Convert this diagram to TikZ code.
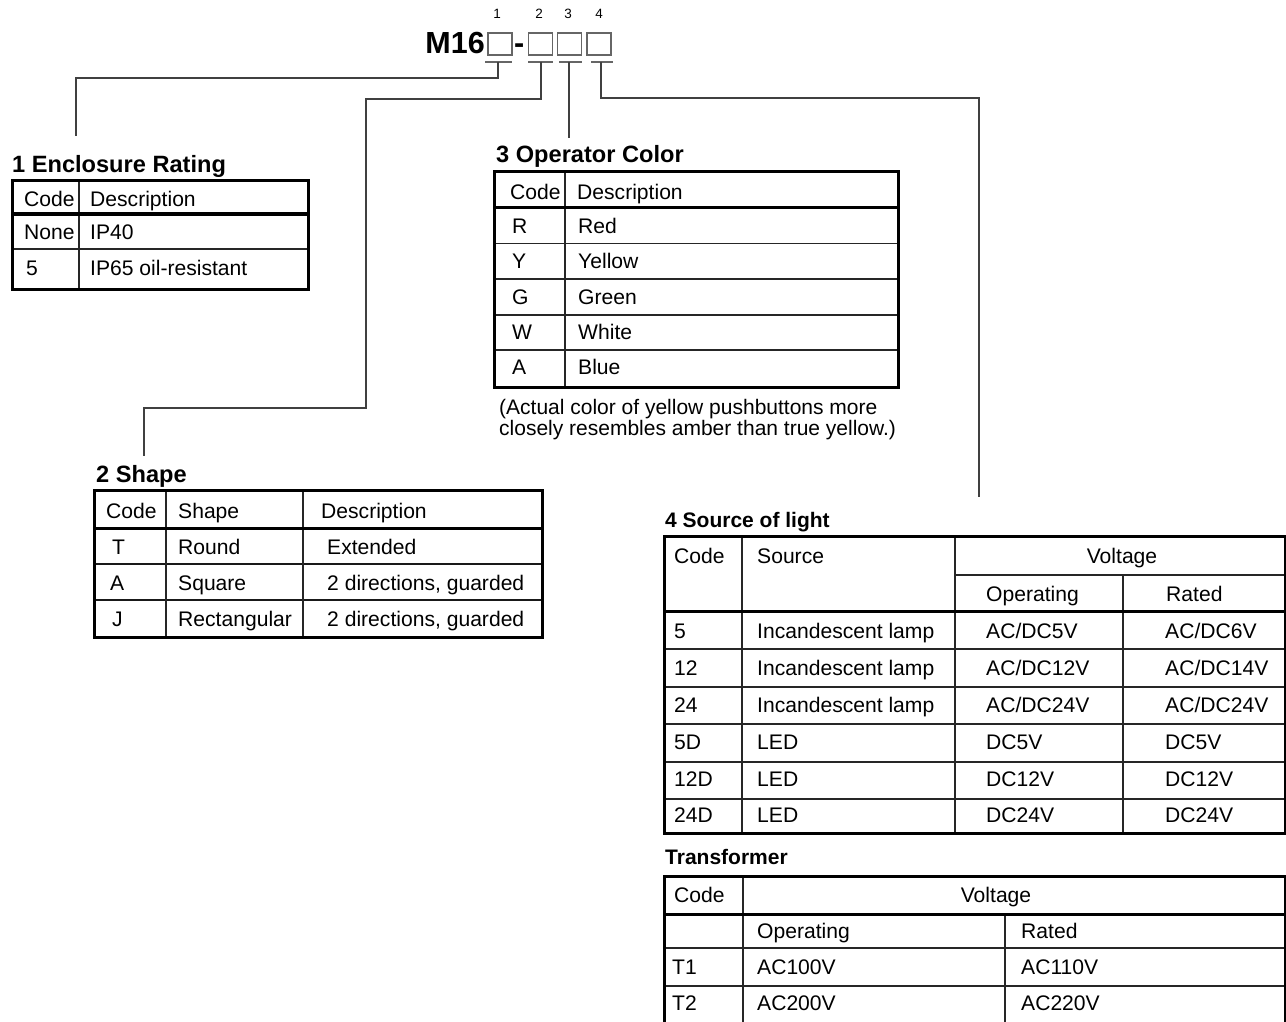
\documentclass[tikz,border=0pt]{standalone}
\usepackage{fontspec}
\setmainfont{Liberation Sans}
\begin{document}
\begin{tikzpicture}[x=1pt,y=-1pt,
  cell/.style={anchor=west,inner sep=0pt,text height=15pt,text depth=0pt,font=\fontsize{21.1}{21}\selectfont},
  ccell/.style={cell,anchor=center},
  ttl/.style={anchor=west,inner sep=0pt,text height=17pt,text depth=0pt,font=\bfseries\fontsize{23.6}{26}\selectfont},
  sttl/.style={ttl,text height=15pt,font=\bfseries\fontsize{21}{24}\selectfont},
  note/.style={anchor=north west,inner sep=0pt,align=left,font=\fontsize{21}{21}\selectfont},
  digit/.style={anchor=center,inner sep=0pt,font=\fontsize{13.5}{14}\selectfont},
  codebox/.style={draw=black!60,line width=1.3pt,minimum width=24pt,minimum height=22pt,inner sep=0pt},
  uline/.style={draw=black!60,line width=1.8pt},
  conn/.style={draw=black!75,line width=1.3pt},
  thickln/.style={line width=3pt,line cap=rect},
  thinln/.style={line width=1.2pt,draw=black!85},
  midln/.style={line width=1.8pt,draw=black!90}]
\useasboundingbox (0,0) rectangle (1286,1022);

% ---------------- header code ----------------
\node[anchor=base east,inner sep=0pt,font=\bfseries\fontsize{30.5}{32}\selectfont] (m16) at (485,54) {M16};
\node[anchor=base west,inner sep=0pt,font=\bfseries\fontsize{30.5}{32}\selectfont] (dash) at (514,54) {-};
\node[codebox] (b1) at (500,44) {};
\node[codebox] (b2) at (540.5,44) {};
\node[codebox] (b3) at (569.5,44) {};
\node[codebox] (b4) at (599,44) {};
\node[digit] (d1) at (497,14) {1};
\node[digit] (d2) at (539,14) {2};
\node[digit] (d3) at (568,14) {3};
\node[digit] (d4) at (599,14) {4};
\draw[uline] (485,62) -- (512,62);
\draw[uline] (528,62) -- (553,62);
\draw[uline] (559,62) -- (582,62);
\draw[uline] (591,62) -- (613,62);
\coordinate (u1) at (498,62);
\coordinate (u2) at (541,62);
\coordinate (u3) at (569,62);
\coordinate (u4) at (601,62);
\coordinate (e1) at (76,136);
\coordinate (e2) at (144,456);
\coordinate (e3) at (569,138);
\coordinate (e4) at (979,497);

% connectors
\draw[conn] (u1) |- (76,78) -- (e1);
\draw[conn] (u2) |- (366,99) |- (144,408) -- (e2);
\draw[conn] (u3) -- (e3);
\draw[conn] (u4) |- (979,98) -- (e4);

% ---------------- table 1 ----------------
\node[ttl] (t1) at (12,164) {1 Enclosure Rating};
\draw[thinln] (12,249) -- (308,249);
\draw[thinln] (79,181) -- (79,289);
\draw[thickln] (12,214) -- (308,214);
\draw[thickln] (12,181) rectangle (308,289);
\node[cell] (t1a) at (24,199) {Code};
\node[cell] (t1b) at (90,199) {Description};
\node[cell] (t1c) at (24,232) {None};
\node[cell] (t1d) at (90,232) {IP40};
\node[cell] (t1e) at (26,268) {5};
\node[cell] (t1f) at (90,268) {IP65 oil-resistant};

% ---------------- table 3 ----------------
\node[ttl] (t3) at (496,154) {3 Operator Color};
\foreach \yy in {243.5,279,315,350} \draw[thinln] (494,\yy) -- (898,\yy);
\draw[thinln] (565,172) -- (565,387);
\draw[thickln] (494,208) -- (898,208);
\draw[thickln] (494,172) rectangle (898,387);
\node[cell] (t3a) at (510,192) {Code};
\node[cell] (t3b) at (577,192) {Description};
\node[cell] (t3c) at (512,226) {R};
\node[cell] (t3d) at (578,226) {Red};
\node[cell] (t3e) at (512,261) {Y};
\node[cell] (t3f) at (578,261) {Yellow};
\node[cell] (t3g) at (512,297) {G};
\node[cell] (t3h) at (578,297) {Green};
\node[cell] (t3i) at (512,332) {W};
\node[cell] (t3j) at (578,332) {White};
\node[cell] (t3k) at (512,367) {A};
\node[cell] (t3l) at (578,367) {Blue};
\node[note] (t3n) at (499,399) {(Actual color of yellow pushbuttons more\\closely resembles amber than true yellow.)};

% ---------------- table 2 ----------------
\node[ttl] (t2) at (96,474) {2 Shape};
\draw[midln] (94,564) -- (542,564);
\draw[midln] (94,600) -- (542,600);
\draw[thinln] (166,490) -- (166,637);
\draw[thinln] (303,490) -- (303,637);
\draw[thickln] (94,528) -- (542,528);
\draw[thickln] (94,490) rectangle (542,637);
\node[cell] (t2a) at (106,511) {Code};
\node[cell] (t2b) at (178,511) {Shape};
\node[cell] (t2c) at (321,511) {Description};
\node[cell] (t2d) at (112,547) {T};
\node[cell] (t2e) at (178,547) {Round};
\node[cell] (t2f) at (327,547) {Extended};
\node[cell] (t2g) at (110,583) {A};
\node[cell] (t2h) at (178,583) {Square};
\node[cell] (t2i) at (327,583) {2 directions, guarded};
\node[cell] (t2j) at (112,619) {J};
\node[cell] (t2k) at (178,619) {Rectangular};
\node[cell] (t2l) at (327,619) {2 directions, guarded};

% ---------------- table 4 ----------------
\node[sttl] (t4) at (665,520) {4 Source of light};
\foreach \yy in {649,687,724,762,799} \draw[thinln] (664,\yy) -- (1285,\yy);
\draw[thinln] (955,575) -- (1285,575);
\draw[thinln] (742,536) -- (742,833);
\draw[thinln] (955,536) -- (955,833);
\draw[thinln] (1123,575) -- (1123,833);
\draw[thickln] (664,611) -- (1285,611);
\draw[thickln] (664,536) rectangle (1285,833);
\node[cell] (t4a) at (674,556) {Code};
\node[cell] (t4b) at (757,556) {Source};
\node[ccell] (t4c) at (1122,556) {Voltage};
\node[cell] (t4d) at (986,594) {Operating};
\node[cell] (t4e) at (1166,594) {Rated};
\node[cell] (r1a) at (674,631) {5};
\node[cell] (r1b) at (757,631) {Incandescent lamp};
\node[cell] (r1c) at (986,631) {AC/DC5V};
\node[cell] (r1d) at (1165,631) {AC/DC6V};
\node[cell] (r2a) at (674,668) {12};
\node[cell] (r2b) at (757,668) {Incandescent lamp};
\node[cell] (r2c) at (986,668) {AC/DC12V};
\node[cell] (r2d) at (1165,668) {AC/DC14V};
\node[cell] (r3a) at (674,705) {24};
\node[cell] (r3b) at (757,705) {Incandescent lamp};
\node[cell] (r3c) at (986,705) {AC/DC24V};
\node[cell] (r3d) at (1165,705) {AC/DC24V};
\node[cell] (r4a) at (674,742) {5D};
\node[cell] (r4b) at (757,742) {LED};
\node[cell] (r4c) at (986,742) {DC5V};
\node[cell] (r4d) at (1165,742) {DC5V};
\node[cell] (r5a) at (674,779) {12D};
\node[cell] (r5b) at (757,779) {LED};
\node[cell] (r5c) at (986,779) {DC12V};
\node[cell] (r5d) at (1165,779) {DC12V};
\node[cell] (r6a) at (674,815) {24D};
\node[cell] (r6b) at (757,815) {LED};
\node[cell] (r6c) at (986,815) {DC24V};
\node[cell] (r6d) at (1165,815) {DC24V};

% ---------------- transformer ----------------
\node[sttl] (t5) at (665,857) {Transformer};
\draw[thinln] (664,948) -- (1285,948);
\draw[thinln] (664,986) -- (1285,986);
\draw[thinln] (743,876) -- (743,1022);
\draw[thinln] (1005,914) -- (1005,1022);
\draw[thickln] (664,914) -- (1285,914);
\draw[thickln] (664,1022) -- (664,876) -- (1285,876) -- (1285,1022);
\node[cell] (x1) at (674,895) {Code};
\node[ccell] (x2) at (996,895) {Voltage};
\node[cell] (x3) at (757,931) {Operating};
\node[cell] (x4) at (1021,931) {Rated};
\node[cell] (x5) at (672,967) {T1};
\node[cell] (x6) at (757,967) {AC100V};
\node[cell] (x7) at (1021,967) {AC110V};
\node[cell] (x8) at (672,1003) {T2};
\node[cell] (x9) at (757,1003) {AC200V};
\node[cell] (x10) at (1021,1003) {AC220V};
\end{tikzpicture}
\end{document}
